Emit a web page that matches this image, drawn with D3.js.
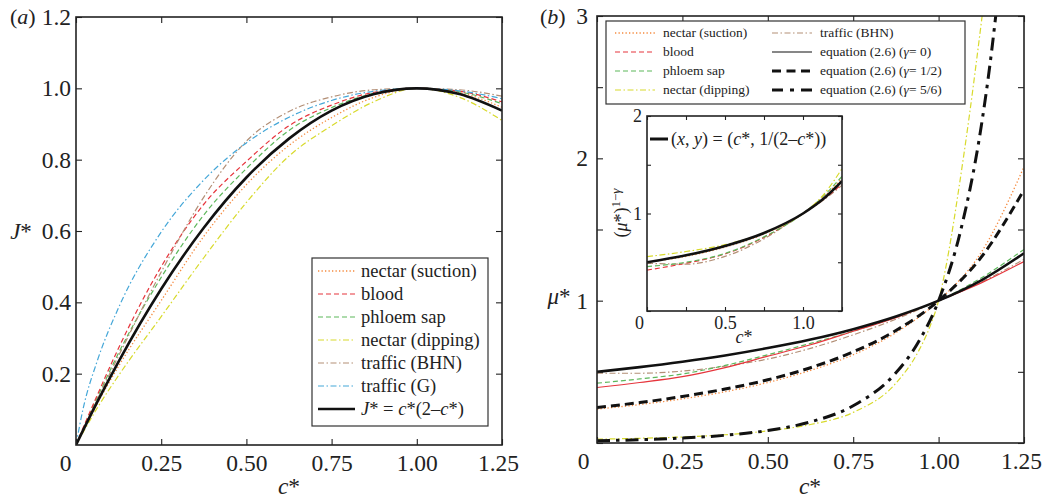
<!DOCTYPE html>
<html><head><meta charset="utf-8">
<script src="https://cdn.jsdelivr.net/npm/d3@7"></script>
<style>
html,body{margin:0;padding:0;background:#fff;overflow:hidden;}
svg{display:block;}
svg text{font-family:"Liberation Serif","Times New Roman",Times,"DejaVu Serif",serif;}
</style></head><body>
<svg id="chart" width="1043" height="499" font-family="Liberation Serif, Times New Roman, Times, DejaVu Serif, serif"></svg>
<script>
// ---------- DATA ----------
// Panel (a): J* vs c*
const cA       = [0, 0.02, 0.0625, 0.125, 0.25, 0.375, 0.5, 0.625, 0.75, 0.875, 1.0, 1.125, 1.25];
const jSuction = [0, 0.038, 0.116, 0.221, 0.405, 0.585, 0.73, 0.84, 0.918, 0.975, 1, 0.988, 0.947];
const jBlood   = [0, 0.046, 0.14, 0.272, 0.5, 0.675, 0.795, 0.895, 0.953, 0.989, 1, 0.992, 0.962];
const jPhloem  = [0, 0.044, 0.133, 0.258, 0.47, 0.645, 0.775, 0.882, 0.946, 0.986, 1, 0.99, 0.957];
const jDipping = [0, 0.034, 0.104, 0.195, 0.36, 0.525, 0.68, 0.81, 0.895, 0.963, 1, 0.975, 0.91];
const jBHN     = [0, 0.042, 0.128, 0.25, 0.485, 0.695, 0.852, 0.935, 0.976, 0.996, 1, 0.996, 0.978];
const jG       = [0, 0.098, 0.236, 0.385, 0.597, 0.743, 0.847, 0.919, 0.966, 0.992, 1, 0.993, 0.971];
const jModel   = [0, 0.0396, 0.121, 0.234, 0.4375, 0.609, 0.75, 0.859, 0.9375, 0.984, 1, 0.984, 0.9375];

// Panel (b): mu* vs c*
const cB        = [0, 0.125, 0.25, 0.375, 0.5, 0.625, 0.75, 0.875, 1.0, 1.125, 1.25];
const muSuction = [0.238, 0.27, 0.31, 0.36, 0.425, 0.51, 0.62, 0.775, 1.0, 1.34, 1.94];
const muBlood   = [0.39, 0.425, 0.466, 0.53, 0.61, 0.69, 0.785, 0.88, 1.0, 1.125, 1.275];
const muPhloem  = [0.42, 0.45, 0.485, 0.545, 0.62, 0.70, 0.785, 0.885, 1.0, 1.16, 1.36];
const muBHN     = [0.49, 0.49, 0.505, 0.54, 0.59, 0.665, 0.76, 0.87, 1.0, 1.13, 1.29];
const cDip      = [0, 0.125, 0.25, 0.375, 0.5, 0.625, 0.75, 0.875, 0.94, 0.975, 1.0, 1.03, 1.06, 1.09, 1.13];
const muDipping = [0.027, 0.033, 0.042, 0.058, 0.085, 0.13, 0.215, 0.42, 0.64, 0.82, 1.0, 1.35, 1.8, 2.3, 3.05];
const muEq0     = [0.5, 0.533, 0.571, 0.615, 0.667, 0.727, 0.8, 0.889, 1.0, 1.143, 1.333];
const muEq12    = [0.25, 0.284, 0.327, 0.379, 0.444, 0.529, 0.64, 0.79, 1.0, 1.306, 1.778];
const cEq56     = [0, 0.125, 0.25, 0.375, 0.5, 0.625, 0.75, 0.875, 0.9375, 1.0, 1.0625, 1.125, 1.15, 1.175];
const muEq56    = [0.0156, 0.023, 0.0348, 0.0543, 0.0878, 0.148, 0.262, 0.493, 0.695, 1.0, 1.473, 2.228, 2.652, 3.166];

// Inset: (mu*)^(1-gamma) vs c*
const cI       = [0, 0.25, 0.5, 0.75, 1.0, 1.125, 1.25];
const vSuction = [0.5, 0.56, 0.655, 0.79, 1.0, 1.16, 1.36];
const vBlood   = [0.42, 0.49, 0.585, 0.755, 1.0, 1.14, 1.30];
const vPhloem  = [0.455, 0.5, 0.59, 0.76, 1.0, 1.17, 1.38];
const vDipping = [0.557, 0.61, 0.68, 0.8, 1.0, 1.18, 1.46];
const vBHN     = [0.49, 0.48, 0.56, 0.74, 1.0, 1.13, 1.29];
const vModel   = [0.5, 0.571, 0.667, 0.8, 1.0, 1.143, 1.333];

// Ticks
const xTicks       = [0, 0.25, 0.5, 0.75, 1.0, 1.25];
const xTickLabels  = ["0", "0.25", "0.50", "0.75", "1.00", "1.25"];
const yTicksA      = [0.2, 0.4, 0.6, 0.8, 1.0, 1.2];
const yTickLabelsA = ["0.2", "0.4", "0.6", "0.8", "1.0", "1.2"];
const yTicksB      = [0, 0.5, 1, 1.5, 2, 2.5, 3];
const yTickLabelsB = ["", "", "1", "", "2", "", "3"];
const xTicksI      = [0, 0.25, 0.5, 0.75, 1.0, 1.25];
const xTickLabelsI = ["0", "", "0.5", "", "1.0", ""];
const yTicksI      = [0, 0.5, 1, 1.5, 2];
const yTickLabelsI = ["", "", "1", "", "2"];

// ---------- STYLES ----------
const FONT = "Liberation Serif, Times New Roman, Times, DejaVu Serif, serif";
const C = {orange:"#f58a3f", red:"#e6353c", green:"#5db75b", yellow:"#d8da2c", brown:"#b38f76", blue:"#45a7d8", black:"#111"};
const ST = {
  suction:{color:C.orange, w:1.3, dash:"1.3,2.2"},
  blood:{color:C.red, w:1.2, dash:"5,3"},
  bloodSolid:{color:C.red, w:1.2, dash:null},
  phloem:{color:C.green, w:1.2, dash:"5,3"},
  dipping:{color:C.yellow, w:1.2, dash:"6,2.5,1.5,2.5"},
  bhn:{color:C.brown, w:1.2, dash:"6,2.5,1.5,2.5"},
  g:{color:C.blue, w:1.2, dash:"6,2.5,1.5,2.5"},
  model:{color:C.black, w:2.6, dash:null},
  eq0:{color:C.black, w:2.6, dash:null},
  eq0thin:{color:C.black, w:1.2, dash:null},
  eq12:{color:C.black, w:3, dash:"9,5"},
  eq56:{color:C.black, w:3, dash:"13,6,3.5,6"}
};

const svg = d3.select("#chart");

function txt(g) { return g.append("text").attr("font-family", FONT).attr("fill", "#222"); }

function drawLine(g, x, y, cs, vs, st) {
  const line = d3.line().x(d => x(d[0])).y(d => y(d[1])).curve(d3.curveMonotoneX);
  const p = g.append("path").datum(d3.zip(cs, vs)).attr("d", line)
    .attr("fill", "none").attr("stroke", st.color).attr("stroke-width", st.w);
  if (st.dash) p.attr("stroke-dasharray", st.dash);
  return p;
}

function legendSample(g, x1, x2, yy, st) {
  const l = g.append("line").attr("x1", x1).attr("x2", x2).attr("y1", yy).attr("y2", yy)
    .attr("stroke", st.color).attr("stroke-width", st.w);
  if (st.dash) l.attr("stroke-dasharray", st.dash);
}

function frame(g, x, y, opts) {
  const [x0, x1] = x.range(), [y0, y1] = y.range();
  const ts = opts.tick;
  const styleAxis = sel => {
    sel.attr("font-family", FONT);
    sel.select(".domain").remove();
    sel.selectAll(".tick line").attr("stroke", "#222").attr("stroke-width", 1.1);
    sel.selectAll(".tick text").attr("fill", "#222").attr("font-size", opts.fs).attr("font-family", FONT);
  };
  const bx = g.append("g").attr("transform", `translate(0,${y0})`)
    .call(d3.axisBottom(x).tickValues(opts.xt).tickFormat((d, i) => opts.xl[i])
      .tickSizeInner(-ts).tickSizeOuter(0).tickPadding(opts.padX)).call(styleAxis);
  bx.selectAll(".tick text").filter(d => d === 0).attr("dx", opts.zeroDx);
  if (opts.lastDx) bx.selectAll(".tick text").filter(d => d === 1.25).attr("dx", opts.lastDx);
  g.append("g").attr("transform", `translate(0,${y1})`)
    .call(d3.axisTop(x).tickValues(opts.xt).tickFormat("").tickSizeInner(-ts).tickSizeOuter(0)).call(styleAxis);
  g.append("g").attr("transform", `translate(${x0},0)`)
    .call(d3.axisLeft(y).tickValues(opts.yt).tickFormat((d, i) => opts.yl[i])
      .tickSizeInner(-ts).tickSizeOuter(0).tickPadding(opts.padY)).call(styleAxis);
  g.append("g").attr("transform", `translate(${x1},0)`)
    .call(d3.axisRight(y).tickValues(opts.yt).tickFormat("").tickSizeInner(-ts).tickSizeOuter(0)).call(styleAxis);
  g.append("rect").attr("x", x0).attr("y", y1).attr("width", x1 - x0).attr("height", y0 - y1)
    .attr("fill", "none").attr("stroke", "#222").attr("stroke-width", 1.6);
}

function clipFor(id, x, y) {
  const [x0, x1] = x.range(), [y0, y1] = y.range();
  svg.append("defs").append("clipPath").attr("id", id).append("rect")
    .attr("x", x0).attr("y", y1).attr("width", x1 - x0).attr("height", y0 - y1);
}

// ---------- PANEL (a) ----------
const xA = d3.scaleLinear().domain([0, 1.25]).range([76, 502]);
const yA = d3.scaleLinear().domain([0, 1.2]).range([445, 17]);
clipFor("clipA", xA, yA);
const gA = svg.append("g");
const gAl = gA.append("g").attr("clip-path", "url(#clipA)");
drawLine(gAl, xA, yA, cA, jDipping, ST.dipping);
drawLine(gAl, xA, yA, cA, jSuction, ST.suction);
drawLine(gAl, xA, yA, cA, jPhloem, ST.phloem);
drawLine(gAl, xA, yA, cA, jBlood, ST.blood);
drawLine(gAl, xA, yA, cA, jBHN, ST.bhn);
drawLine(gAl, xA, yA, cA, jG, ST.g);
drawLine(gAl, xA, yA, cA, jModel, ST.model);
frame(gA, xA, yA, {tick:6, fs:23.5, xt:xTicks, xl:xTickLabels, yt:yTicksA, yl:yTickLabelsA, padX:9, padY:5, zeroDx:-11, lastDx:-4});

// legend (a)
const legA = gA.append("g");
legA.append("rect").attr("x", 312).attr("y", 258).attr("width", 176).attr("height", 168)
  .attr("fill", "#fff").attr("stroke", "#333").attr("stroke-width", 1.2);
const legAItems = [
  ["nectar (suction)", ST.suction], ["blood", ST.blood], ["phloem sap", ST.phloem],
  ["nectar (dipping)", ST.dipping], ["traffic (BHN)", ST.bhn], ["traffic (G)", ST.g]
];
legAItems.forEach((it, i) => {
  const yy = 271 + i * 23;
  legendSample(legA, 318, 355, yy, it[1]);
  txt(legA).attr("x", 361).attr("y", yy).attr("dy", "0.33em").attr("font-size", 18.5).text(it[0]);
});
{
  const yy = 271 + 6 * 23;
  legendSample(legA, 318, 355, yy, ST.model);
  const t = txt(legA).attr("x", 361).attr("y", yy).attr("dy", "0.33em").attr("font-size", 18.5);
  t.append("tspan").attr("font-style", "italic").text("J");
  t.append("tspan").text("* = ");
  t.append("tspan").attr("font-style", "italic").text("c");
  t.append("tspan").text("*(2–");
  t.append("tspan").attr("font-style", "italic").text("c");
  t.append("tspan").text("*)");
}
// labels (a)
{
  const t = txt(svg).attr("x", 10).attr("y", 17).attr("dy", "0.33em").attr("font-size", 22);
  t.append("tspan").text("(");
  t.append("tspan").attr("font-style", "italic").text("a");
  t.append("tspan").text(")");
  const jl = txt(svg).attr("x", 21).attr("y", 231).attr("dy", "0.33em").attr("text-anchor", "middle").attr("font-size", 23);
  jl.append("tspan").attr("font-style", "italic").text("J");
  jl.append("tspan").text("*");
  const cl = txt(svg).attr("x", 289).attr("y", 486).attr("dy", "0.33em").attr("text-anchor", "middle").attr("font-size", 23.5);
  cl.append("tspan").attr("font-style", "italic").text("c");
  cl.append("tspan").text("*");
}

// ---------- PANEL (b) ----------
const xB = d3.scaleLinear().domain([0, 1.25]).range([597, 1024]);
const yB = d3.scaleLinear().domain([0, 3]).range([443, 16]);
clipFor("clipB", xB, yB);
const gB = svg.append("g");
const gBl = gB.append("g").attr("clip-path", "url(#clipB)");
drawLine(gBl, xB, yB, cB, muBHN, ST.bhn);
drawLine(gBl, xB, yB, cB, muPhloem, ST.phloem);
drawLine(gBl, xB, yB, cB, muBlood, ST.bloodSolid);
drawLine(gBl, xB, yB, cB, muSuction, ST.suction);
drawLine(gBl, xB, yB, cDip, muDipping, ST.dipping);
drawLine(gBl, xB, yB, cB, muEq0, ST.eq0);
drawLine(gBl, xB, yB, cB, muEq12, ST.eq12);
drawLine(gBl, xB, yB, cEq56, muEq56, ST.eq56);
frame(gB, xB, yB, {tick:6, fs:23.5, xt:xTicks, xl:xTickLabels, yt:yTicksB, yl:yTickLabelsB, padX:9, padY:9, zeroDx:-14, lastDx:-3});

// legend (b)
const legB = gB.append("g");
legB.append("rect").attr("x", 606).attr("y", 21).attr("width", 359).attr("height", 83)
  .attr("fill", "#fff").attr("stroke", "#333").attr("stroke-width", 1.2);
const rowsB = [33, 52, 71, 90];
const legBCol1 = [["nectar (suction)", ST.suction], ["blood", ST.blood], ["phloem sap", ST.phloem], ["nectar (dipping)", ST.dipping]];
legBCol1.forEach((it, i) => {
  legendSample(legB, 615, 655, rowsB[i], it[1]);
  txt(legB).attr("x", 663).attr("y", rowsB[i]).attr("dy", "0.33em").attr("font-size", 13.5).text(it[0]);
});
legendSample(legB, 772, 812, rowsB[0], ST.bhn);
txt(legB).attr("x", 820).attr("y", rowsB[0]).attr("dy", "0.33em").attr("font-size", 13.5).text("traffic (BHN)");
const eqRows = [["0", ST.eq0thin], ["1/2", {color:C.black, w:2.8, dash:"9,5.5"}], ["5/6", {color:C.black, w:2.8, dash:"11,7,4,7"}]];
eqRows.forEach((it, i) => {
  const yy = rowsB[i + 1];
  legendSample(legB, 772, 812, yy, it[1]);
  const t = txt(legB).attr("x", 820).attr("y", yy).attr("dy", "0.33em").attr("font-size", 13.5);
  t.append("tspan").text("equation (2.6) (");
  t.append("tspan").attr("font-style", "italic").text("γ");
  t.append("tspan").text("= " + it[0] + ")");
});

// labels (b)
{
  const t = txt(svg).attr("x", 540).attr("y", 17).attr("dy", "0.33em").attr("font-size", 22);
  t.append("tspan").text("(");
  t.append("tspan").attr("font-style", "italic").text("b");
  t.append("tspan").text(")");
  const ml = txt(svg).attr("x", 559).attr("y", 296).attr("dy", "0.33em").attr("text-anchor", "middle").attr("font-size", 23);
  ml.append("tspan").attr("font-style", "italic").text("μ");
  ml.append("tspan").text("*");
  const cl = txt(svg).attr("x", 810).attr("y", 486).attr("dy", "0.33em").attr("text-anchor", "middle").attr("font-size", 23.5);
  cl.append("tspan").attr("font-style", "italic").text("c");
  cl.append("tspan").text("*");
}

// ---------- INSET ----------
const xI = d3.scaleLinear().domain([0, 1.25]).range([647, 842]);
const yI = d3.scaleLinear().domain([0, 2]).range([311, 116]);
clipFor("clipI", xI, yI);
const gI = svg.append("g");
gI.append("rect").attr("x", 647).attr("y", 116).attr("width", 195).attr("height", 195).attr("fill", "#fff");
const gIl = gI.append("g").attr("clip-path", "url(#clipI)");
drawLine(gIl, xI, yI, cI, vBHN, ST.bhn);
drawLine(gIl, xI, yI, cI, vBlood, ST.blood);
drawLine(gIl, xI, yI, cI, vPhloem, ST.phloem);
drawLine(gIl, xI, yI, cI, vSuction, ST.suction);
drawLine(gIl, xI, yI, cI, vDipping, ST.dipping);
drawLine(gIl, xI, yI, cI, vModel, ST.model);
frame(gI, xI, yI, {tick:4, fs:18, xt:xTicksI, xl:xTickLabelsI, yt:yTicksI, yl:yTickLabelsI, padX:5, padY:5, zeroDx:-8});
legendSample(gI, 650, 668, 139, {color:C.black, w:3, dash:null});
{
  const t = txt(gI).attr("x", 671).attr("y", 139).attr("dy", "0.33em").attr("font-size", 18);
  t.append("tspan").text("(");
  t.append("tspan").attr("font-style", "italic").text("x");
  t.append("tspan").text(", ");
  t.append("tspan").attr("font-style", "italic").text("y");
  t.append("tspan").text(") = (");
  t.append("tspan").attr("font-style", "italic").text("c");
  t.append("tspan").text("*, 1/(2–");
  t.append("tspan").attr("font-style", "italic").text("c");
  t.append("tspan").text("*))");
  const yl = txt(gI).attr("transform", "translate(627,213) rotate(-90)").attr("text-anchor", "middle").attr("font-size", 18);
  yl.append("tspan").text("(");
  yl.append("tspan").attr("font-style", "italic").text("μ");
  yl.append("tspan").text("*)");
  yl.append("tspan").attr("font-size", 13).attr("dy", -7).text("1−");
  yl.append("tspan").attr("font-size", 13).attr("font-style", "italic").text("γ");
  const xl = txt(gI).attr("x", 744).attr("y", 337).attr("dy", "0.33em").attr("text-anchor", "middle").attr("font-size", 18);
  xl.append("tspan").attr("font-style", "italic").text("c");
  xl.append("tspan").text("*");
}
</script>
</body></html>
